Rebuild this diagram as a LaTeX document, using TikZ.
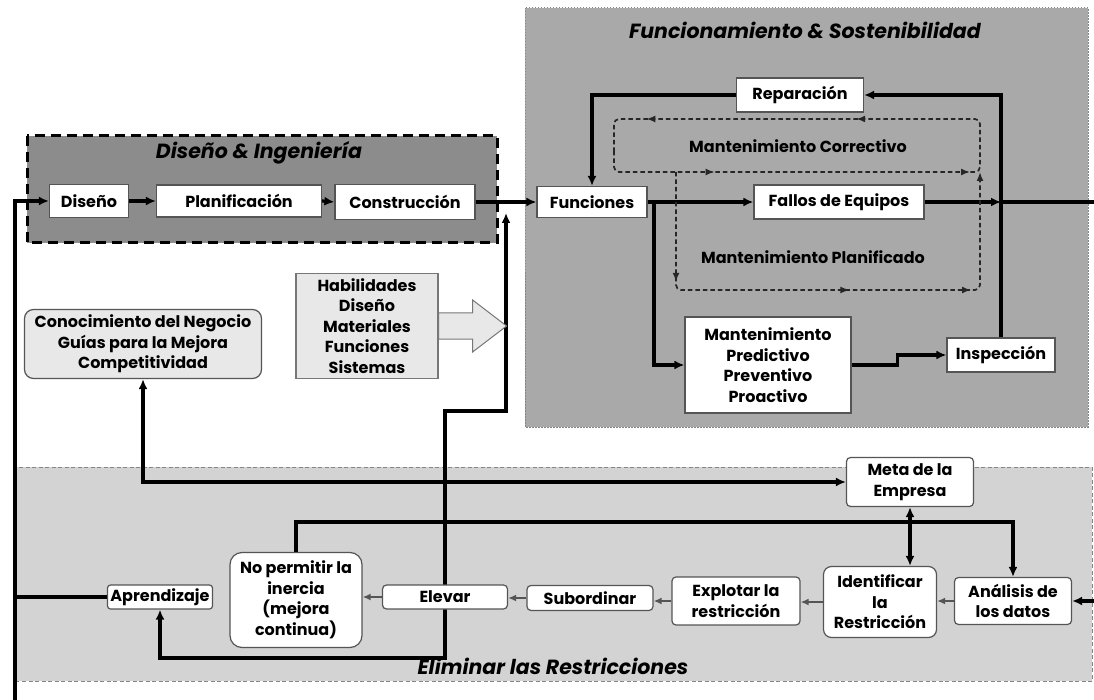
\documentclass[tikz,border=0pt]{standalone}
\usepackage{fontspec}
\setmainfont{Poppins}
\usetikzlibrary{arrows.meta,decorations.markings,calc}
\pgfdeclarelayer{bg}
\pgfdeclarelayer{wires}
\pgfsetlayers{bg,wires,main}

\definecolor{panelA}{HTML}{A9A9A9}
\definecolor{panelB}{HTML}{8C8C8C}
\definecolor{panelC}{HTML}{D3D3D3}
\definecolor{softfill}{HTML}{E8E8E8}
\definecolor{edge}{HTML}{555555}
\definecolor{dashgray}{HTML}{262626}
\definecolor{rimgray}{HTML}{858585}

\tikzset{
  lbl/.style={font=\fontsize{16}{20.5}\selectfont\bfseries, align=center, inner sep=0pt},
  sqbox/.style={lbl, draw=edge, line width=1.2pt, fill=white},
  rbox/.style={sqbox, rounded corners=4pt},
  paneltitle/.style={font=\fontsize{20.5}{22}\selectfont\bfseries\itshape, inner sep=0pt},
  wire/.style={line width=3.2pt, draw=black},
  endtip/.style={-{Latex[length=10pt,width=9pt]}},
  twotips/.style={{Latex[length=10pt,width=9pt]}-{Latex[length=10pt,width=9pt]}},
  grayarrow/.style={draw=edge, line width=2pt, -{Latex[length=8pt,width=7pt]}},
  loopline/.style={draw=dashgray, line width=1.7pt, dash pattern=on 4.5pt off 3pt, rounded corners=5pt},
  loopmark/.style={-{Latex[length=9pt,width=7pt]}}
}

\begin{document}
\begin{tikzpicture}[x=1pt,y=-1pt]
\useasboundingbox (0,0) rectangle (1094,700);

% ---- panels ----
\begin{pgfonlayer}{bg}
  \fill[white] (0,0) rectangle (1094,700);
  \draw[fill=panelA, draw=rimgray, line width=1pt, dash pattern=on 1.5pt off 1.5pt] (525,8) rectangle (1088,427);
  \draw[fill=panelC, draw=rimgray, line width=1pt, dash pattern=on 4pt off 2.5pt] (15,467) rectangle (1092,681);
  \draw[fill=panelB, draw=black, line width=3pt, dash pattern=on 10pt off 6pt] (27,136) rectangle (497,243);
\end{pgfonlayer}

% ---- panel titles ----
\node[paneltitle] (tfs) at (805,30) {Funcionamiento \& Sostenibilidad};
\node[paneltitle] (tdi) at (259,153) {Diseño \& Ingeniería};
\node[paneltitle] (ter) at (553,666) {Eliminar las Restricciones};

% ---- design & engineering ----
\node[sqbox, minimum width=79pt, minimum height=33pt] (dis) at (89,201) {Diseño};
\node[sqbox, minimum width=165pt, minimum height=32pt] (pla) at (239,201) {Planificación};
\node[sqbox, minimum width=140pt, minimum height=35pt] (con) at (405,202) {Construcción};

% ---- operation & sustainability ----
\node[sqbox, minimum width=110pt, minimum height=31pt] (fun) at (592,202) {Funciones};
\node[sqbox, minimum width=170pt, minimum height=34pt] (fal) at (839,202) {Fallos de Equipos};
\node[sqbox, minimum width=127pt, minimum height=34pt] (rep) at (800,95) {Reparación};
\node[sqbox, minimum width=166pt, minimum height=96pt] (man) at (768,365) {Mantenimiento\\Predictivo\\Preventivo\\Proactivo};
\node[sqbox, minimum width=108pt, minimum height=34pt] (ins) at (1001,355) {Inspección};
\node[lbl] (mco) at (798,146) {Mantenimiento Correctivo};
\node[lbl] (mpl) at (813,257) {Mantenimiento Planificado};

% ---- knowledge boxes ----
\node[sqbox, fill=softfill, draw=edge!80, minimum width=142pt, minimum height=105pt] (hab) at (367,326) {Habilidades\\Diseño\\Materiales\\Funciones\\Sistemas};
\node[rbox, fill=softfill, rounded corners=9pt, minimum width=237pt, minimum height=69pt] (kno) at (143,344) {Conocimiento del Negocio\\Guías para la Mejora\\Competitividad};

% ---- removing constraints ----
\node[rbox, rounded corners=3pt, minimum width=105pt, minimum height=24pt] (apr) at (160,597) {Aprendizaje};
\node[rbox, rounded corners=12pt, minimum width=132pt, minimum height=95pt] (nop) at (296,600) {No permitir la\\inercia\\(mejora\\continua)};
\node[rbox, minimum width=125pt, minimum height=24pt] (ele) at (445,597) {Elevar};
\node[rbox, minimum width=126pt, minimum height=25pt] (sub) at (590,598) {Subordinar};
\node[rbox, minimum width=128pt, minimum height=48pt] (exp) at (736,601) {Explotar la\\restricción};
\node[rbox, rounded corners=8pt, minimum width=113pt, minimum height=71pt] (ide) at (880,602) {Identificar\\la\\Restricción};
\node[rbox, minimum width=117pt, minimum height=47pt] (ana) at (1013,601) {Análisis de\\los datos};
\node[rbox, minimum width=127pt, minimum height=49pt] (meta) at (910,482) {Meta de la\\Empresa};

% ---- free ends and bends ----
\coordinate (lx) at (15,700);
\coordinate (fx) at (1001,202);
\coordinate (fr) at (1094,202);
\coordinate (fb) at (654,202);
\coordinate (eb) at (445,658);
\coordinate (et) at (445,411);
\coordinate (ct) at (506,213);
\coordinate (r1) at (1013,522);
\coordinate (ri) at (1094,601);

% ---- wires that pass behind boxes ----
\begin{pgfonlayer}{wires}
  \draw[wire, twotips] (apr.south) |- (eb) -- (et) -| (ct);
  \draw[draw=edge!80, fill=softfill, line width=1pt]
    (hab.east) ++(0,-13) -- ++(34,0) -- ++(0,-13) -- ++(34,26) -- ++(-34,26) -- ++(0,-13) -- ++(-34,0) -- cycle;
\end{pgfonlayer}

% ---- main flow ----
\draw[wire, endtip] (lx) |- (dis.west);
\draw[wire] (apr.west) -- (apr.west -| lx);
\draw[wire, endtip] (dis.east) -- (pla.west);
\draw[wire, endtip] (pla.east) -- (con.west);
\draw[wire, endtip] (con.east) -- (fun.west);
\draw[wire, endtip] (fun.east) -- (fal.west);
\draw[wire, endtip] (fal.east) -- (fx);
\draw[wire] (fx) -- (fr);
\draw[wire, endtip] (ins.north) |- (rep.east);
\draw[wire, endtip] (rep.west) -| (fun.north);
\draw[wire, endtip] (fb) |- (man.west);
\draw[wire, endtip] (man.east) -- ++(46,0) |- (ins.west);

% ---- maintenance loops ----
\draw[loopline, postaction={decorate}, decoration={markings,
    mark=at position 0.144 with {\arrow{Latex[length=9pt,width=7pt]}},
    mark=at position 0.452 with {\arrow{Latex[length=9pt,width=7pt]}},
    mark=at position 0.672 with {\arrow{Latex[length=9pt,width=7pt]}},
    mark=at position 0.925 with {\arrow{Latex[length=9pt,width=7pt]}}}]
  (614,146) |- (980,172) |- (614,119) -- cycle;
\draw[loopline, loopmark, postaction={decorate}, decoration={markings,
    mark=at position 0.205 with {\arrow{Latex[length=9pt,width=7pt]}},
    mark=at position 0.54 with {\arrow{Latex[length=9pt,width=7pt]}},
    mark=at position 0.767 with {\arrow{Latex[length=9pt,width=7pt]}}}]
  (676,172) -- (676,290) -- (980,290) -- (980,172);

% ---- goal and constraint cycle ----
\draw[wire, twotips] (kno.south) |- (meta.west);
\draw[wire, endtip] (nop.north) |- (r1) -- (ana.north);
\draw[wire, twotips] (meta.south) -- (meta.south |- ide.north);
\draw[wire, endtip] (ri) -- (ana.east);
\draw[grayarrow] (ana.west) -- (ana.west -| ide.east);
\draw[grayarrow] (ide.west) -- (ide.west -| exp.east);
\draw[grayarrow] (exp.west) -- (exp.west -| sub.east);
\draw[grayarrow] (sub.west) -- (sub.west -| ele.east);
\draw[grayarrow] (ele.west) -- (ele.west -| nop.east);
\end{tikzpicture}
\end{document}
